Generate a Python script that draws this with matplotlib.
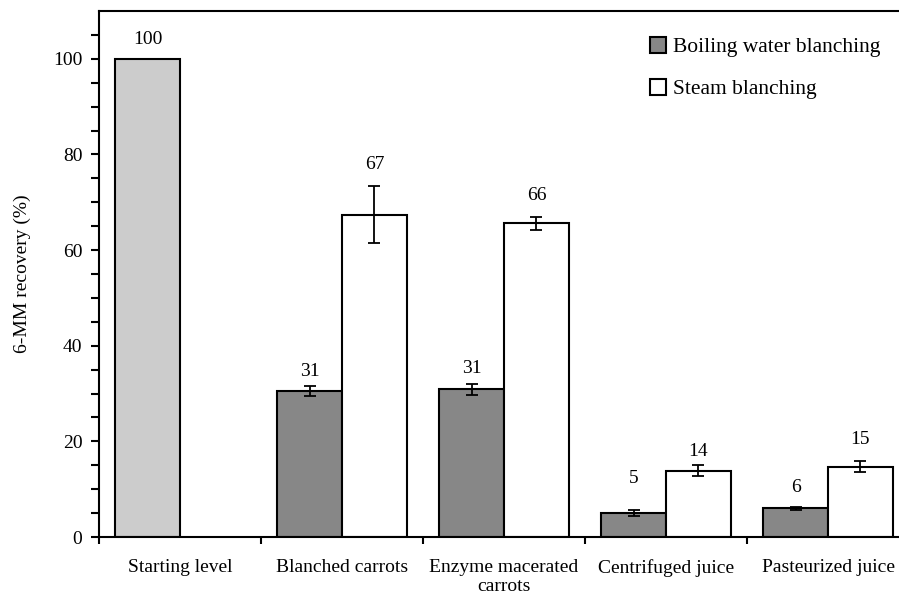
import numpy as np
import matplotlib.pyplot as plt

categories = ["Starting level", "Blanched carrots", "Enzyme macerated\ncarrots",
              "Centrifuged juice", "Pasteurized juice"]
start_value = 100
boiling = [30.5, 30.9, 5.0, 6.0]
boiling_err = [1.0, 1.2, 0.7, 0.3]
steam = [67.4, 65.6, 13.9, 14.7]
steam_err = [6.0, 1.4, 1.2, 1.2]
boiling_labels = ["31", "31", "5", "6"]
steam_labels = ["67", "66", "14", "15"]

plt.rcParams['font.family'] = ['Liberation Serif', 'DejaVu Serif']
plt.rcParams['font.size'] = 14

fig = plt.figure(figsize=(8.99, 5.98), dpi=100)
W, H = 899, 598
ax = fig.add_axes([99 / W, 1 - 537 / H, 810 / W, 526 / H])

w = 0.4
x = np.arange(1, 5)
ax.bar(0 - w / 2, start_value, w, color='#cccccc', edgecolor='black', linewidth=1.5)
ax.bar(x - w / 2, boiling, w, yerr=boiling_err, color='#878787', edgecolor='black',
       linewidth=1.5, capsize=4, error_kw=dict(elinewidth=1.3, capthick=1.3),
       label='Boiling water blanching')
ax.bar(x + w / 2, steam, w, yerr=steam_err, color='white', edgecolor='black',
       linewidth=1.5, capsize=4, error_kw=dict(elinewidth=1.3, capthick=1.3),
       label='Steam blanching')

# value labels above bars (offsets in data units above error bar top)
boil_off = [3.1, 3.1, 6.5, 4.0]
steam_off = [4.4, 4.4, 2.8, 4.4]
ax.text(0 - w / 2, start_value + 4.0, "100", ha='center', va='center')
for i in range(4):
    ax.text(x[i] - w / 2, boiling[i] + boiling_err[i] + boil_off[i], boiling_labels[i],
            ha='center', va='center')
    ax.text(x[i] + w / 2, steam[i] + steam_err[i] + steam_off[i], steam_labels[i],
            ha='center', va='center')

ax.set_xlim(-0.5, 4.5)
ax.set_ylim(0, 110)
ax.set_yticks(np.arange(0, 101, 20))
ax.set_yticks(np.arange(0, 106, 5), minor=True)
ax.set_xticks(np.arange(-0.5, 4.6, 1))
ax.set_xticklabels([])
ax.set_xticks(np.arange(0, 5), minor=True)
ax.set_xticklabels(categories, minor=True, linespacing=1.15)
ax.tick_params(axis='x', which='minor', length=0, pad=16)
ax.tick_params(axis='x', which='major', length=5, width=1.5)
ax.tick_params(axis='y', which='both', length=6, width=1.5, direction='out', pad=6)

ax.spines['right'].set_visible(False)
for s in ['left', 'bottom', 'top']:
    ax.spines[s].set_linewidth(1.5)

ax.set_ylabel("6-MM recovery (%)", labelpad=16)

ax.legend(loc='upper left', bbox_to_anchor=(650 / W, 1 - 37 / H),
          bbox_transform=fig.transFigure, frameon=False, fontsize=15.5,
          borderpad=0, borderaxespad=0, handlelength=0.75, handleheight=0.75,
          handletextpad=0.3, labelspacing=1.0)

fig.savefig("out.png", dpi=100)
